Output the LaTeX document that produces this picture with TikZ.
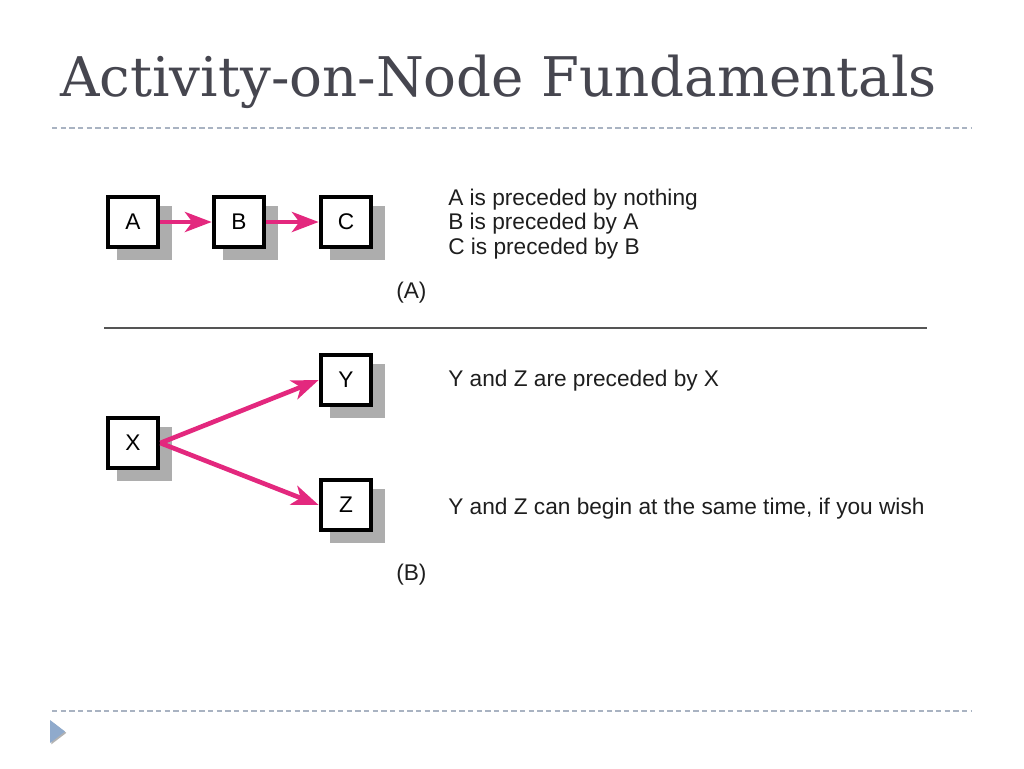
\documentclass[tikz,border=0pt]{standalone}
\usepackage{fontspec}
\setsansfont{Liberation Sans}
\newfontfamily\titlefont{DejaVu Serif}
\usetikzlibrary{arrows.meta,shadows}

\definecolor{title-gray}{HTML}{46464F}
\definecolor{rule-dash}{HTML}{A9B3C2}
\definecolor{rule-solid}{HTML}{555555}
\definecolor{box-shadow}{HTML}{ADADAD}
\definecolor{arrow-pink}{HTML}{E3287E}
\definecolor{bullet-blue}{HTML}{8FAACC}
\definecolor{text-gray}{HTML}{1E1E1E}

\tikzstyle{activity}=[draw, line width=3pt, fill=white, minimum size=38pt, inner sep=0pt,
      font=\sffamily\fontsize{17pt}{19pt}\selectfont,
      general shadow={fill=box-shadow, shadow scale=1.07, shadow xshift=8pt, shadow yshift=-7.5pt}]
\tikzstyle{precedence}=[draw=arrow-pink, line width=3.5pt, -{Stealth[length=20pt, width=15pt, inset=5.5pt]}]
\tikzstyle{note}=[anchor=base west, inner sep=0pt, text=text-gray,
      font=\sffamily\fontsize{17pt}{20pt}\selectfont]
\tikzstyle{slide-rule}=[draw=rule-dash, line width=0.9pt, dash pattern=on 4pt off 2.5pt]

\begin{document}
\begin{tikzpicture}[x=0.75pt, y=-0.75pt]
      \useasboundingbox (0, 0) rectangle (1024, 768);
      \node (title) at (60, 96) [anchor=base west, inner sep=0pt, text=title-gray,
            font=\titlefont\fontsize{41pt}{48pt}\selectfont] {Activity-on-Node Fundamentals};
      \coordinate (top-left) at (52, 128);
      \coordinate (top-right) at (972, 128);
      \coordinate (foot-left) at (52, 711);
      \coordinate (foot-right) at (972, 711);
      \draw [slide-rule] (top-left) -- (top-right);
      \draw [slide-rule] (foot-left) -- (foot-right);

      \node (A) at (133, 222) [activity] {A};
      \node (B) at (239, 222) [activity] {B};
      \node (C) at (346, 222) [activity] {C};
      \draw [precedence] (A) -- (B);
      \draw [precedence] (B) -- (C);
      \node (note-a) at (448, 205) [note] {A is preceded by nothing};
      \node (note-b) at (448, 229.5) [note] {B is preceded by A};
      \node (note-c) at (448, 254) [note] {C is preceded by B};
      \node (part-a) at (396, 298) [note] {(A)};

      \coordinate (split-left) at (104, 328);
      \coordinate (split-right) at (927, 328);
      \draw [draw=rule-solid, line width=1.1pt] (split-left) -- (split-right);

      \node (X) at (133, 443) [activity] {X};
      \node (Y) at (346, 380) [activity] {Y};
      \node (Z) at (346, 505) [activity] {Z};
      \draw [precedence] (X.east) -- (Y.west);
      \draw [precedence] (X.east) -- (Z.west);
      \node (note-y) at (448, 386) [note] {Y and Z are preceded by X};
      \node (note-z) at (448, 514) [note] {Y and Z can begin at the same time, if you wish};
      \node (part-b) at (396, 580) [note] {(B)};

      \coordinate (bullet-top) at (50, 720);
      \coordinate (bullet-tip) at (65, 731.5);
      \coordinate (bullet-bottom) at (50, 743);
      \fill [bullet-blue, general shadow={fill=gray!60, shadow xshift=1pt, shadow yshift=-1pt}]
            (bullet-top) -- (bullet-tip) -- (bullet-bottom) -- cycle;
\end{tikzpicture}
\end{document}
